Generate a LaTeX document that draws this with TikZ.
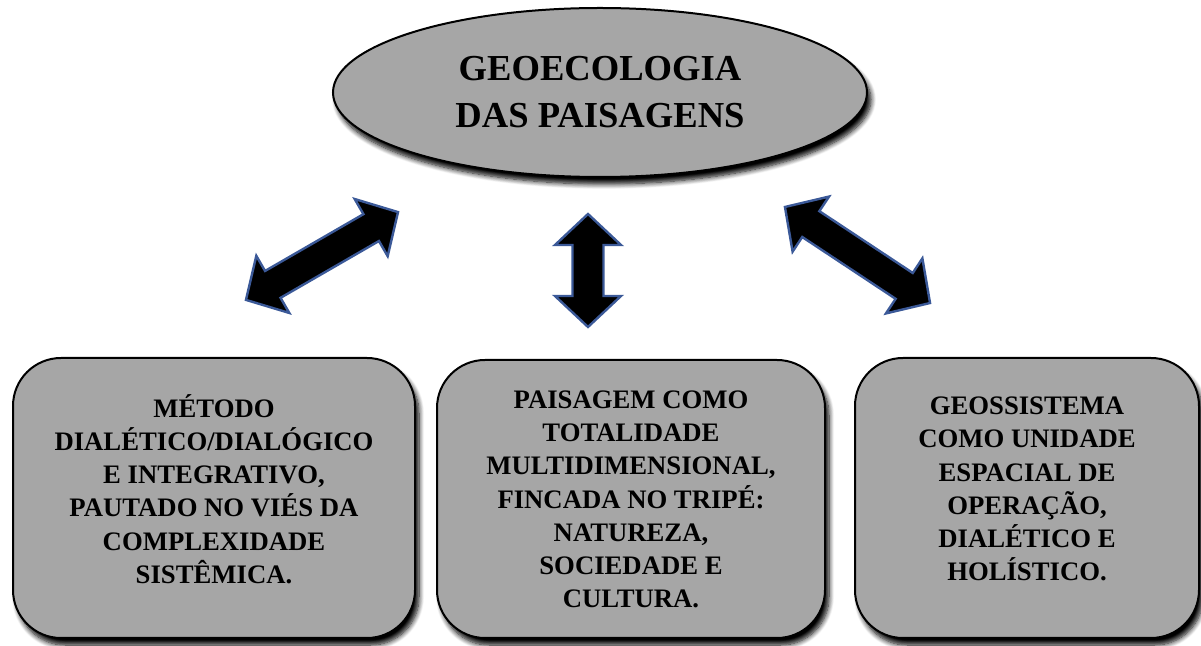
\documentclass[tikz,border=0pt]{standalone}
\usepackage{fontspec}
\setmainfont{Liberation Serif}
\usetikzlibrary{shapes.geometric,shadows.blur}
\definecolor{boxgray}{RGB}{166,166,166}
\definecolor{arrowblue}{RGB}{59,89,152}
\tikzset{
  shadebox/.style={draw=black, line width=1pt, fill=boxgray,
    blur shadow={shadow xshift=2pt, shadow yshift=-3.5pt, shadow blur radius=2.5pt, shadow blur steps=8, shadow opacity=100}},
  infobox/.style={shadebox, rectangle, rounded corners=24pt, inner sep=0pt},
  boxtext/.style={align=center, font=\fontsize{13.35pt}{16.6pt}\selectfont\bfseries, inner sep=0pt},
  titletext/.style={align=center, font=\fontsize{18.3pt}{23.5pt}\selectfont\bfseries},
  blockarrow/.style={fill=black, draw=arrowblue, line width=1.2pt, line join=miter},
  pics/dblarrow/.style={code={
    \path[blockarrow] (#1,0) -- (#1-31,33) -- (#1-31,15.5) -- (-#1+31,15.5) -- (-#1+31,33)
      -- (-#1,0) -- (-#1+31,-33) -- (-#1+31,-15.5) -- (#1-31,-15.5) -- (#1-31,-33) -- cycle;}}
}
\begin{document}
\begin{tikzpicture}[x=0.5pt,y=-0.5pt]
\useasboundingbox (0,0) rectangle (1201,646);
% title ellipse
\node[shadebox, ellipse, minimum width=267pt, minimum height=84.5pt, inner sep=0pt, titletext]
  (title) at (600,92.5) {GEOECOLOGIA\\DAS PAISAGENS};
% boxes
\node[infobox, minimum width=201pt, minimum height=140pt] (b1) at (214,498) {};
\node[infobox, minimum width=194pt, minimum height=139pt] (b2) at (631,499) {};
\node[infobox, minimum width=172pt, minimum height=140pt] (b3) at (1027,498) {};
\node[boxtext] (t1) at (214,489) {MÉTODO\\DIALÉTICO/DIALÓGICO\\E INTEGRATIVO,\\PAUTADO NO VIÉS DA\\COMPLEXIDADE\\SISTÊMICA.};
\node[boxtext] (t2) at (631,499.5) {PAISAGEM COMO\\TOTALIDADE\\MULTIDIMENSIONAL,\\FINCADA NO TRIPÉ:\\NATUREZA,\\SOCIEDADE E\\CULTURA.};
\node[boxtext] (t3) at (1027,489) {GEOSSISTEMA\\COMO UNIDADE\\ESPACIAL DE\\OPERAÇÃO,\\DIALÉTICO E\\HOLÍSTICO.};
% double block arrows
\pic[rotate=30] (a1) at (322,256) {dblarrow=87.8};
\pic[rotate=90] (a2) at (588,270.5) {dblarrow=56.5};
\pic[rotate=-33.5] (a3) at (857.5,255) {dblarrow=87};
\end{tikzpicture}
\end{document}
